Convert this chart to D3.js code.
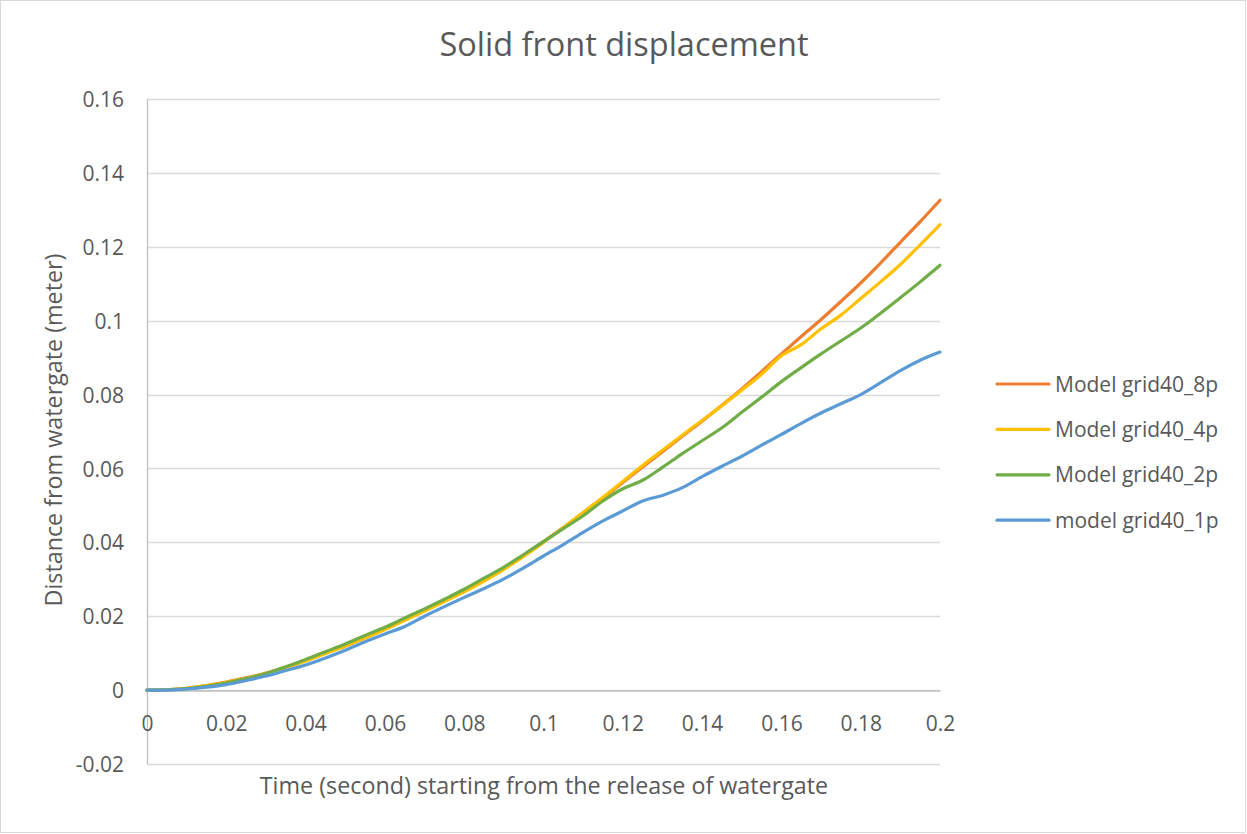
<!DOCTYPE html>
<html>
<head>
<meta charset="utf-8">
<script src="https://cdn.jsdelivr.net/npm/d3@7/dist/d3.min.js"></script>
<style>
  html, body { margin: 0; padding: 0; background: #fff; }
  svg text { font-family: "Open Sans", sans-serif; fill: #595959; }
</style>
</head>
<body>
<svg id="chart" width="1247" height="834"></svg>
<script>
// Sample times (s)
const times = [0, 0.005, 0.01, 0.015, 0.02, 0.025, 0.03, 0.035, 0.04, 0.045, 0.05,
  0.055, 0.06, 0.065, 0.07, 0.075, 0.08, 0.085, 0.09, 0.095, 0.1,
  0.105, 0.11, 0.115, 0.12, 0.125, 0.13, 0.135, 0.14, 0.145, 0.15,
  0.155, 0.16, 0.165, 0.17, 0.175, 0.18, 0.185, 0.19, 0.195, 0.2];

// Front distance (m) per model
const grid40_8p = [0, 0.0001, 0.0005, 0.0012, 0.0022, 0.0033, 0.0046, 0.0062, 0.0080, 0.0100, 0.0120,
  0.0142, 0.0165, 0.0190, 0.0215, 0.0241, 0.0268, 0.0298, 0.0330, 0.0365, 0.0402,
  0.0440, 0.0480, 0.0520, 0.0562, 0.0604, 0.0645, 0.0687, 0.0728, 0.0771, 0.0815,
  0.0862, 0.0910, 0.0957, 0.1003, 0.1052, 0.1102, 0.1156, 0.1212, 0.1268, 0.1326];
const grid40_4p = [0, 0.0001, 0.0005, 0.0012, 0.0021, 0.0032, 0.0045, 0.0061, 0.0079, 0.0099, 0.0119,
  0.0141, 0.0164, 0.0189, 0.0214, 0.0240, 0.0266, 0.0295, 0.0327, 0.0362, 0.0400,
  0.0440, 0.0481, 0.0522, 0.0565, 0.0608, 0.0649, 0.0690, 0.0730, 0.0770, 0.0812,
  0.0855, 0.0905, 0.0935, 0.0978, 0.1015, 0.1060, 0.1105, 0.1152, 0.1205, 0.1260];
const grid40_2p = [0, 0.0001, 0.0004, 0.0010, 0.0019, 0.0031, 0.0045, 0.0063, 0.0083, 0.0104, 0.0125,
  0.0148, 0.0170, 0.0195, 0.0220, 0.0246, 0.0273, 0.0303, 0.0333, 0.0367, 0.0402,
  0.0437, 0.0472, 0.0512, 0.0545, 0.0568, 0.0603, 0.0640, 0.0675, 0.0710, 0.0752,
  0.0793, 0.0835, 0.0873, 0.0910, 0.0945, 0.0980, 0.1020, 0.1062, 0.1105, 0.1150];
const grid40_1p = [0, 0.0000, 0.0003, 0.0008, 0.0015, 0.0026, 0.0038, 0.0053, 0.0068, 0.0087, 0.0108,
  0.0131, 0.0152, 0.0172, 0.0200, 0.0226, 0.0251, 0.0275, 0.0301, 0.0331, 0.0363,
  0.0394, 0.0427, 0.0458, 0.0485, 0.0512, 0.0527, 0.0548, 0.0578, 0.0606, 0.0633,
  0.0663, 0.0692, 0.0722, 0.0750, 0.0775, 0.0800, 0.0832, 0.0865, 0.0893, 0.0915];

const seriesNames = ["Model grid40_8p", "Model grid40_4p", "Model grid40_2p", "model grid40_1p"];
const seriesValues = [grid40_8p, grid40_4p, grid40_2p, grid40_1p];
const seriesColors = ["#ED7D31", "#FFC000", "#70AD47", "#5B9BD5"];

const xTicks = [0, 0.02, 0.04, 0.06, 0.08, 0.1, 0.12, 0.14, 0.16, 0.18, 0.2];
const yTicks = [-0.02, 0, 0.02, 0.04, 0.06, 0.08, 0.1, 0.12, 0.14, 0.16];

const titleText = "Solid front displacement";
const xTitle = "Time (second) starting from the release of watergate";
const yTitle = "Distance from watergate (meter)";

const W = 1247, H = 834;
const plot = { left: 147, right: 940, top: 99, bottom: 764 };

const svg = d3.select("#chart");

// outer chart border
svg.append("rect")
  .attr("x", 0.5).attr("y", 0.5)
  .attr("width", W - 2).attr("height", H - 2)
  .attr("fill", "#fff").attr("stroke", "#d9d9d9");

const x = d3.scaleLinear().domain([0, 0.2]).range([plot.left, plot.right]);
const y = d3.scaleLinear().domain([-0.02, 0.16]).range([plot.bottom, plot.top]);

const fmt = d => d === 0 ? "0" : String(+d.toFixed(2));

// horizontal gridlines
svg.append("g")
  .selectAll("line")
  .data(yTicks)
  .join("line")
  .attr("x1", plot.left).attr("x2", plot.right)
  .attr("y1", d => Math.round(y(d)) + 0.5).attr("y2", d => Math.round(y(d)) + 0.5)
  .attr("stroke", "#d9d9d9").attr("stroke-width", 1.3);

// y axis labels
const yAxis = d3.axisLeft(y).tickValues(yTicks).tickFormat(fmt).tickSize(0).tickPadding(23);
const gy = svg.append("g").attr("transform", `translate(${plot.left},0)`).call(yAxis);
gy.select(".domain").remove();
gy.selectAll("text").style("font-size", "21px").attr("dy", "0.36em");

// vertical axis line
svg.append("line")
  .attr("x1", plot.left + 0.5).attr("x2", plot.left + 0.5)
  .attr("y1", plot.top).attr("y2", plot.bottom)
  .attr("stroke", "#bfbfbf").attr("stroke-width", 1.3);

// horizontal axis at zero
const xAxis = d3.axisBottom(x).tickValues(xTicks).tickFormat(fmt).tickSize(0);
const gx = svg.append("g").attr("transform", `translate(0,${Math.round(y(0)) + 0.5})`).call(xAxis);
gx.select(".domain").attr("stroke", "#bfbfbf").attr("stroke-width", 1.3);
gx.selectAll("text").style("font-size", "21px").attr("y", 40).attr("dy", 0);

// series lines
const line = d3.line()
  .x((d, i) => x(times[i]))
  .y(d => y(d))
  .curve(d3.curveMonotoneX);

svg.append("g")
  .selectAll("path")
  .data(seriesValues)
  .join("path")
  .attr("d", d => line(d))
  .attr("fill", "none")
  .attr("stroke", (d, i) => seriesColors[i])
  .attr("stroke-width", 3.2)
  .attr("stroke-linejoin", "round")
  .attr("stroke-linecap", "round");

// title
svg.append("text")
  .attr("x", 624).attr("y", 56)
  .attr("text-anchor", "middle")
  .style("font-size", "32.5px")
  .text(titleText);

// axis titles
svg.append("text")
  .attr("x", 544).attr("y", 794)
  .attr("text-anchor", "middle")
  .style("font-size", "23.3px")
  .text(xTitle);

svg.append("text")
  .attr("transform", "translate(62,430) rotate(-90)")
  .attr("text-anchor", "middle")
  .style("font-size", "23.3px")
  .text(yTitle);

// legend
const legend = svg.append("g").attr("transform", "translate(997,384)");
const rows = legend.selectAll("g")
  .data(seriesNames)
  .join("g")
  .attr("transform", (d, i) => `translate(0,${i * 45.4})`);
rows.append("line")
  .attr("x1", 0).attr("x2", 52)
  .attr("stroke", (d, i) => seriesColors[i])
  .attr("stroke-width", 3.2)
  .attr("stroke-linecap", "round");
rows.append("text")
  .attr("x", 58).attr("dy", "0.36em")
  .style("font-size", "21px")
  .text(d => d);
</script>
</body>
</html>
